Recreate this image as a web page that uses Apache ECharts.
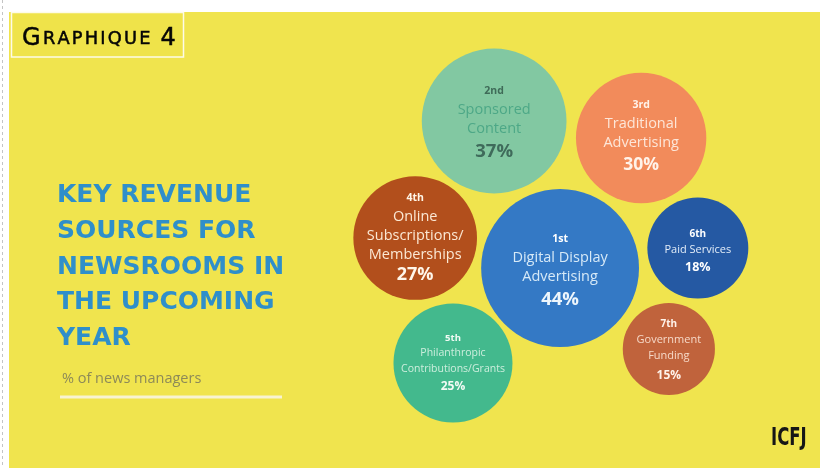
<!DOCTYPE html>
<html>
<head>
<meta charset="utf-8">
<script src="https://cdn.jsdelivr.net/npm/echarts@6/dist/echarts.min.js"></script>
<style>
  html, body { margin: 0; padding: 0; background: #ffffff; }
  #chart { width: 820px; height: 468px; }
</style>
</head>
<body>
<div id="chart"></div>
<script>
// Key revenue sources for newsrooms in the upcoming year (% of news managers)
const ranks = ['1st', '2nd', '3rd', '4th', '5th', '6th', '7th'];
const sources = [
  'Digital Display\nAdvertising',
  'Sponsored\nContent',
  'Traditional\nAdvertising',
  'Online\nSubscriptions/\nMemberships',
  'Philanthropic\nContributions/Grants',
  'Paid Services',
  'Government\nFunding'
];
const shares = [44, 37, 30, 27, 25, 18, 15];

// Anchor point of each bubble on the hidden 0-100 layout grid
const layoutX = [52.4, 36.7, 71.7, 17.9, 26.9, 85.2, 78.3];
const layoutY = [43, 79.75, 75.5, 50.5, 19.25, 48, 22.75];

// Bubble area is proportional to the share
const bubbleDiameter = v => 2 * 11.9 * Math.sqrt(v);

// Fill and label styling per bubble
const bubbleStyles = [
  { fill: '#3479c5', rank: '#ffffff', name: '#d6e9f7', pct: '#eef6fc', rs: 10.5, ns: 14.5, ps: 18.5, rl: 17, nl: 19, pl: 27, dy: 4 },
  { fill: '#82c8a2', rank: '#3f6b58', name: '#4da887', pct: '#3f6b5b', rs: 10.5, ns: 14.5, ps: 18.5, rl: 17, nl: 19, pl: 27, dy: 3 },
  { fill: '#f28b5b', rank: '#fff3ea', name: '#fde6d8', pct: '#fff3ea', rs: 10.5, ns: 14.5, ps: 17.5, rl: 17, nl: 19, pl: 27, dy: 0 },
  { fill: '#b24f1c', rank: '#fff6e8', name: '#fbe8d4', pct: '#fff6ea', rs: 10.5, ns: 14.5, ps: 18, rl: 19, nl: 19, pl: 21, dy: -1 },
  { fill: '#43b98d', rank: '#f2fbf5', name: '#cdeedd', pct: '#f2fbf5', rs: 9.5, ns: 10.5, ps: 12, rl: 14, nl: 16, pl: 20, dy: 1 },
  { fill: '#2559a3', rank: '#ffffff', name: '#e3edf8', pct: '#ffffff', rs: 10, ns: 11, ps: 12.5, rl: 16, nl: 15, pl: 21, dy: 4 },
  { fill: '#c0633c', rank: '#fff3ea', name: '#f6d9c8', pct: '#fff3ea', rs: 10, ns: 11, ps: 12, rl: 16, nl: 16, pl: 24, dy: 3 }
];

const bubbleFont = "'Open Sans', Lato, sans-serif";

const rich = {};
bubbleStyles.forEach((s, i) => {
  rich['r' + i] = { fontFamily: bubbleFont, fontWeight: 'bold', fontSize: s.rs, lineHeight: s.rl, color: s.rank, align: 'center' };
  rich['n' + i] = { fontFamily: bubbleFont, fontWeight: 'normal', fontSize: s.ns, lineHeight: s.nl, color: s.name, align: 'center' };
  rich['p' + i] = { fontFamily: bubbleFont, fontWeight: 'bold', fontSize: s.ps, lineHeight: s.pl, color: s.pct, align: 'center' };
});

const bubbleData = shares.map((v, i) => ({
  name: sources[i].replace(/\n/g, ' '),
  value: [layoutX[i], layoutY[i], v],
  symbolSize: bubbleDiameter(v),
  itemStyle: { color: bubbleStyles[i].fill, opacity: 1 },
  label: { offset: [0, bubbleStyles[i].dy] }
}));

const heading = 'GRAPHIQUE 4';
const headingRich = heading.split('').map((c, k) => {
  const big = (k === 0 || /[0-9]/.test(c));
  return '{' + (big ? 'big' : 'sm') + '|' + c + '}';
}).join('');

const chart = echarts.init(document.getElementById('chart'), null, { renderer: 'canvas' });

chart.setOption({
  backgroundColor: '#ffffff',
  animation: false,
  graphic: [
    { type: 'rect', z: -10, shape: { x: 9, y: 12, width: 811, height: 456 }, style: { fill: '#f0e44e' } },
    { type: 'line', z: -10, shape: { x1: 2.5, y1: 0, x2: 2.5, y2: 468 }, style: { stroke: '#c4c4c4', lineWidth: 1, lineDash: [3, 3] } },
    { type: 'rect', z: -5, shape: { x: 11.5, y: 12.5, width: 172, height: 44.5 }, style: { fill: '#efe34a', stroke: '#fdfbe8', lineWidth: 1.5 } },
    { type: 'line', z: -5, shape: { x1: 60, y1: 397, x2: 282, y2: 397 }, style: { stroke: '#f8f3d2', lineWidth: 3 } },
    {
      type: 'text', z: 5, x: 771, y: 426, scaleX: 0.66,
      style: { text: 'ICFJ', font: "bold 25px 'DejaVu Sans', sans-serif", fill: '#161616' }
    }
  ],
  title: [
    {
      text: headingRich,
      left: 21, top: 27, padding: 0,
      textStyle: {
        fontWeight: 'normal',
        rich: {
          big: { fontFamily: "'DejaVu Sans', sans-serif", fontWeight: 'normal', fontSize: 24, color: '#050505', textBorderColor: '#050505', textBorderWidth: 0.5, padding: [0, 1.1] },
          sm: { fontFamily: "'DejaVu Sans', sans-serif", fontWeight: 'normal', fontSize: 17.8, color: '#050505', textBorderColor: '#050505', textBorderWidth: 0.5, padding: [0, 1.1] }
        }
      }
    },
    {
      text: 'KEY REVENUE\nSOURCES FOR\nNEWSROOMS IN\nTHE UPCOMING\nYEAR',
      left: 57, top: 178, padding: 0,
      textStyle: { fontFamily: "'DejaVu Sans', sans-serif", fontWeight: 'bold', fontSize: 25, lineHeight: 35.7, color: '#2f8fca' }
    },
    {
      text: '% of news managers',
      left: 62, top: 371, padding: 0,
      textStyle: { fontFamily: bubbleFont, fontWeight: 'normal', fontSize: 14.5, color: '#8d8a58' }
    }
  ],
  grid: { left: 340, top: 40, width: 420, height: 400 },
  xAxis: { type: 'value', min: 0, max: 100, show: false },
  yAxis: { type: 'value', min: 0, max: 100, show: false },
  series: [{
    type: 'scatter',
    data: bubbleData,
    label: {
      show: true,
      position: 'inside',
      formatter: p => {
        const i = p.dataIndex;
        const lines = ['{r' + i + '|' + ranks[i] + '}'];
        sources[i].split('\n').forEach(s => lines.push('{n' + i + '|' + s + '}'));
        lines.push('{p' + i + '|' + shares[i] + '%}');
        return lines.join('\n');
      },
      rich: rich
    },
    emphasis: { disabled: true }
  }]
});
</script>
</body>
</html>
